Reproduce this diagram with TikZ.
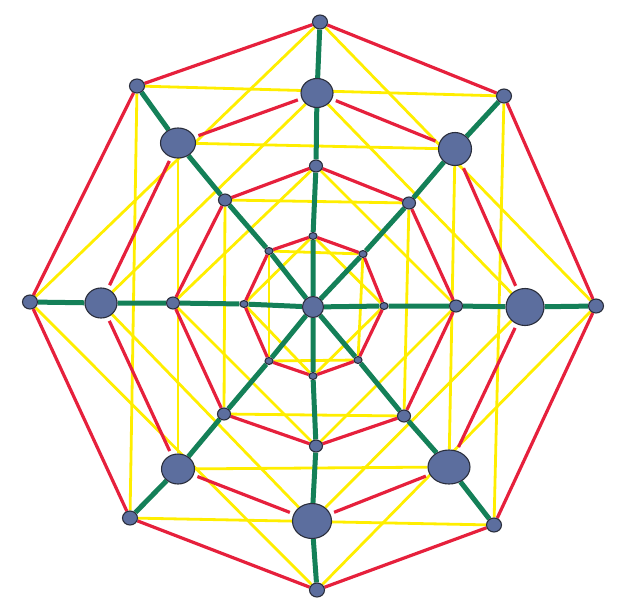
\documentclass[tikz,border=0pt]{standalone}
\usetikzlibrary{shapes.geometric, backgrounds}
\definecolor{pencilred}{RGB}{230,32,60}
\definecolor{pencilyellow}{RGB}{255,238,0}
\definecolor{pencilgreen}{RGB}{20,128,88}
\definecolor{dotblue}{RGB}{92,110,158}
\definecolor{dotrim}{RGB}{42,46,60}
\tikzset{
dot/.style={ellipse, draw=dotrim, fill=dotblue, line width=1.1pt, inner sep=0pt}, % every vertex
tiny/.style={dot, minimum width=8pt, minimum height=7pt}, % inner ring
small/.style={dot, minimum width=13pt, minimum height=12pt}, % middle ring
outer/.style={dot, minimum width=15pt, minimum height=14pt}, % outer ring
spoke/.style={pencilgreen, line width=5pt}, % green rays
rim/.style={pencilred, line width=3.2pt}, % red octagons
star/.style={pencilyellow, line width=2.8pt}, % yellow octagrams
}

\begin{document}
\begin{tikzpicture}[x=1pt, y=-1pt]
\useasboundingbox (0,0) rectangle (626,613);

% centre
\node[dot, minimum width=21pt, minimum height=21pt] (c) at (313,307) {};

% rings, numbered clockwise from the top
\foreach \k/\x/\y in {0/313/236, 1/363/254, 2/384/306, 3/358/360, 4/313/376, 5/269/361, 6/244/304, 7/269/251}
  \node[tiny] (i\k) at (\x,\y) {};
\foreach \k/\x/\y in {0/316/166, 1/409/203, 2/456/306, 3/404/416, 4/316/446, 5/224/414, 6/173/303, 7/225/200}
  \node[small] (m\k) at (\x,\y) {};
\foreach \k/\x/\y/\w/\h in {0/317/93/32/29, 1/455/149/33/33, 2/525/307/38/37, 3/449/467/42/34, 4/312/521/39/35, 5/178/469/33/30, 6/101/303/32/30, 7/178/143/35/30}
  \node[dot, minimum width=\w pt, minimum height=\h pt] (b\k) at (\x,\y) {};
\foreach \k/\x/\y in {0/320/22, 1/504/96, 2/596/306, 3/494/525, 4/317/590, 5/130/518, 6/30/302, 7/137/86}
  \node[outer] (o\k) at (\x,\y) {};

\begin{scope}[on background layer]
\foreach \k in {0,...,7} {
  \pgfmathtruncatemacro\s{mod(\k+2,8)}
  \draw[star] (i\k) -- (i\s);
  \draw[star] (m\k) -- (m\s);
  \draw[star] (b\k) -- (b\s);
  \draw[star] (o\k) -- (o\s);
}
\foreach \k in {0,...,7} {
  \pgfmathtruncatemacro\j{mod(\k+1,8)}
  \draw[rim] (i\k) -- (i\j);
  \draw[rim] (m\k) -- (m\j);
  \draw[rim, shorten <=4pt, shorten >=4pt] (b\k) -- (b\j);
  \draw[rim] (o\k) -- (o\j);
}
\foreach \k in {0,...,7}
  \draw[spoke] (c) -- (i\k) -- (m\k) -- (b\k) -- (o\k);
\end{scope}
\end{tikzpicture}
\end{document}
